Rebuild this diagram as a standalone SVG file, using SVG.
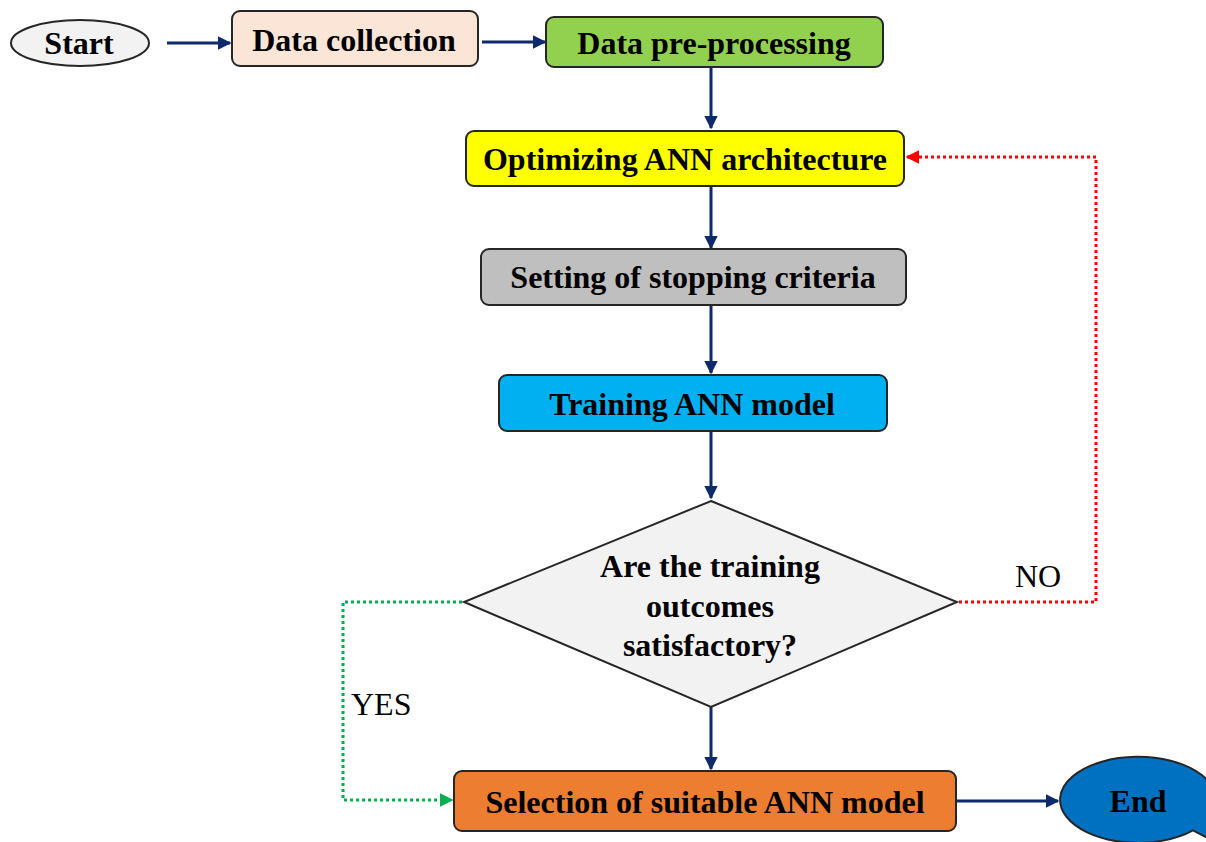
<svg xmlns="http://www.w3.org/2000/svg" width="1206" height="842" viewBox="0 0 1206 842">
  <style>
    .box { stroke: #262626; stroke-width: 2; }
    .lbl { font-family: "Liberation Serif", "Times New Roman", serif; font-weight: bold; font-size: 32px; fill: #000; text-anchor: middle; dominant-baseline: central; }
    .tag { font-family: "Liberation Serif", "Times New Roman", serif; font-size: 32px; fill: #000; }
    .flow { fill: none; stroke: #0E2A6B; stroke-width: 3; }
    .no { fill: none; stroke: #FF0000; stroke-width: 3; stroke-dasharray: 3 3; }
    .yes { fill: none; stroke: #00B050; stroke-width: 3; stroke-dasharray: 3 3; }
  </style>
  <defs>
    <marker id="ah" viewBox="0 0 10 10" refX="9" refY="5" markerWidth="4.5" markerHeight="4.5" orient="auto">
      <path d="M0,0 L10,5 L0,10 z" fill="#0E2A6B"/>
    </marker>
    <marker id="ahRed" viewBox="0 0 10 10" refX="9" refY="5" markerWidth="4.5" markerHeight="4.5" orient="auto">
      <path d="M0,0 L10,5 L0,10 z" fill="#FF0000"/>
    </marker>
    <marker id="ahGreen" viewBox="0 0 10 10" refX="9" refY="5" markerWidth="4.5" markerHeight="4.5" orient="auto">
      <path d="M0,0 L10,5 L0,10 z" fill="#00B050"/>
    </marker>
  </defs>

  <rect width="1206" height="842" fill="#FFFFFF"/>

  <g id="connectors">
    <line class="flow" x1="167" y1="43" x2="230" y2="43" marker-end="url(#ah)"/>
    <line class="flow" x1="482" y1="42" x2="545" y2="42" marker-end="url(#ah)"/>
    <line class="flow" x1="711" y1="67" x2="711" y2="128" marker-end="url(#ah)"/>
    <line class="flow" x1="711" y1="186" x2="711" y2="248" marker-end="url(#ah)"/>
    <line class="flow" x1="711" y1="306" x2="711" y2="373" marker-end="url(#ah)"/>
    <line class="flow" x1="711" y1="432" x2="711" y2="498" marker-end="url(#ah)"/>
    <line class="flow" x1="711" y1="707" x2="711" y2="769" marker-end="url(#ah)"/>
    <line class="flow" x1="957" y1="801" x2="1058" y2="801" marker-end="url(#ah)"/>
    <polyline class="no" points="959,602 1096,602 1096,157 907,157" marker-end="url(#ahRed)"/>
    <polyline class="yes" points="462,602 343,602 343,800 452,800" marker-end="url(#ahGreen)"/>
    <text class="tag" x="1015" y="587">NO</text>
    <text class="tag" x="351" y="715">YES</text>
  </g>

  <g id="start">
    <ellipse class="box" cx="80" cy="43" rx="69" ry="23" fill="#F2F2F2"/>
    <text class="lbl" x="79" y="43">Start</text>
  </g>

  <g id="data-collection">
    <rect class="box" x="232" y="11" width="246" height="55" rx="8" fill="#FBE5D6"/>
    <text class="lbl" x="354" y="40">Data collection</text>
  </g>

  <g id="data-preprocessing">
    <rect class="box" x="546" y="17" width="337" height="50" rx="8" fill="#92D050"/>
    <text class="lbl" x="714" y="43">Data pre-processing</text>
  </g>

  <g id="optimizing">
    <rect class="box" x="466" y="131" width="438" height="55" rx="8" fill="#FFFF00"/>
    <text class="lbl" x="685" y="159">Optimizing ANN architecture</text>
  </g>

  <g id="stopping">
    <rect class="box" x="481" y="249" width="425" height="56" rx="8" fill="#BFBFBF"/>
    <text class="lbl" x="693" y="277">Setting of stopping criteria</text>
  </g>

  <g id="training">
    <rect class="box" x="499" y="375" width="388" height="56" rx="8" fill="#00B0F0"/>
    <text class="lbl" x="692" y="404">Training ANN model</text>
  </g>

  <g id="decision">
    <polygon class="box" points="711,501 957,602 711,707 464,602" fill="#F2F2F2"/>
    <text class="lbl" x="710" y="566">Are the training</text>
    <text class="lbl" x="710" y="606">outcomes</text>
    <text class="lbl" x="710" y="645">satisfactory?</text>
  </g>

  <g id="selection">
    <rect class="box" x="454" y="771" width="502" height="60" rx="8" fill="#ED7D31"/>
    <text class="lbl" x="705" y="802">Selection of suitable ANN model</text>
  </g>

  <g id="end">
    <!-- oval callout: ellipse centred at (1138,800) with a wedge toward the lower right -->
    <path class="box" d="M1193,830.4 A78,43 0 1 1 1211.3,814.7 L1235,852 Z" fill="#0070C0"/>
    <text class="lbl" x="1138" y="801">End</text>
  </g>
</svg>
